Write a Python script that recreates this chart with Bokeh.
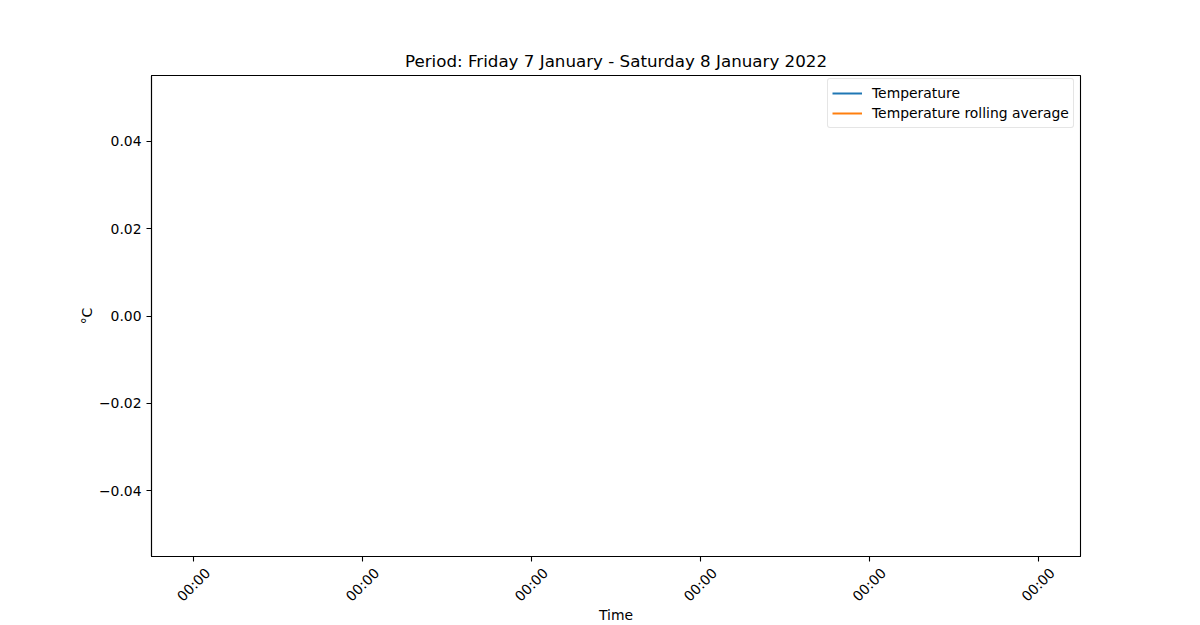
import math
from bokeh.plotting import figure
from bokeh.models import FixedTicker, Range1d, ColumnDataSource, LinearAxis
from bokeh.embed import file_html
from bokeh.resources import INLINE

# ---- data (empty series, as in the reference) ----
time_values = []
temperature = []
rolling_avg = []
x_tick_positions = [0, 1, 2, 3, 4, 5]
x_tick_labels = ["00:00", "00:00", "00:00", "00:00", "00:00", "00:00"]
y_tick_values = [-0.04, -0.02, 0.0, 0.02, 0.04]
y_tick_labels = ["\u22120.04", "\u22120.02", "0.00", "0.02", "0.04"]
x_min, x_max = -0.25, 5.25
y_min, y_max = -0.055, 0.055
title_text = "Period: Friday 7 January - Saturday 8 January 2022"

FONT = "DejaVu Sans"
NAN = float("nan")
FRAME_W, FRAME_H = 929, 481
LABEL_SHIFT_PX = 14  # Bokeh anchors rotated labels at their end; shift so they sit centred under ticks

p = figure(frame_width=FRAME_W, frame_height=FRAME_H, output_backend="svg", toolbar_location=None,
           x_range=Range1d(x_min, x_max), y_range=Range1d(y_min, y_max),
           title=title_text,
           min_border_left=151, min_border_right=120, min_border_top=75, min_border_bottom=69)

p.title.align = "center"
p.title.text_font = FONT
p.title.text_font_size = "16.7px"
p.title.text_font_style = "normal"
p.title.text_color = "black"
p.title.standoff = 10

# empty series: a single NaN placeholder keeps the legend swatch drawable without drawing any mark
src_t = ColumnDataSource(dict(x=time_values or [NAN], y=temperature or [NAN]))
src_r = ColumnDataSource(dict(x=time_values or [NAN], y=rolling_avg or [NAN]))
p.line("x", "y", source=src_t, color="#1f77b4", line_width=2, legend_label="Temperature")
p.line("x", "y", source=src_r, color="#ff7f0e", line_width=2, legend_label="Temperature rolling average")

p.xgrid.visible = False
p.ygrid.visible = False
p.outline_line_color = "black"
p.outline_line_width = 1.1
p.background_fill_color = "white"
p.border_fill_color = "white"


def style_axis(ax):
    ax.axis_line_color = "black"
    ax.axis_line_width = 1.1
    ax.major_tick_in = 0
    ax.major_tick_out = 5
    ax.major_tick_line_color = "black"
    ax.major_tick_line_width = 1.1
    ax.minor_tick_line_color = None
    ax.major_label_text_font = FONT
    ax.major_label_text_font_size = "13.9px"
    ax.major_label_text_color = "black"
    ax.axis_label_text_font = FONT
    ax.axis_label_text_font_size = "13.9px"
    ax.axis_label_text_font_style = "normal"
    ax.axis_label_text_color = "black"
    ax.major_label_standoff = 5


style_axis(p.xaxis[0])
style_axis(p.yaxis[0])

# axis A: tick marks only
xa = p.xaxis[0]
xa.ticker = FixedTicker(ticks=x_tick_positions)
xa.major_label_overrides = {t: "" for t in x_tick_positions}
xa.major_label_text_font_size = "0px"
xa.major_label_standoff = 0

# axis B: rotated tick labels and the axis title
shift = LABEL_SHIFT_PX * (x_max - x_min) / FRAME_W
shifted = [t + shift for t in x_tick_positions]
xb = LinearAxis(ticker=FixedTicker(ticks=shifted))
style_axis(xb)
xb.axis_line_color = None
xb.major_tick_out = 0
xb.major_tick_line_color = None
xb.major_label_overrides = {s: l for s, l in zip(shifted, x_tick_labels)}
xb.major_label_orientation = math.pi / 4
xb.major_label_standoff = 9
xb.axis_label = "Time"
xb.axis_label_standoff = -6
p.add_layout(xb, "below")

p.yaxis[0].ticker = FixedTicker(ticks=y_tick_values)
p.yaxis[0].major_label_overrides = {t: l for t, l in zip(y_tick_values, y_tick_labels)}
p.yaxis[0].axis_label = "°C"
p.yaxis[0].axis_label_standoff = 1

lg = p.legend[0]
lg.location = (676, 428)  # bottom-left corner, px from the frame's bottom-left
lg.margin = 0
lg.padding = 4
lg.spacing = 0
lg.glyph_width = 30
lg.glyph_height = 20
lg.label_height = 20
lg.label_standoff = 10
lg.label_text_font = FONT
lg.label_text_font_size = "13.9px"
lg.label_text_color = "black"
lg.border_line_color = "#cccccc"
lg.border_line_width = 1
lg.border_radius = 3
lg.background_fill_alpha = 0.8

open("out.html", "w").write(file_html(p, INLINE))
